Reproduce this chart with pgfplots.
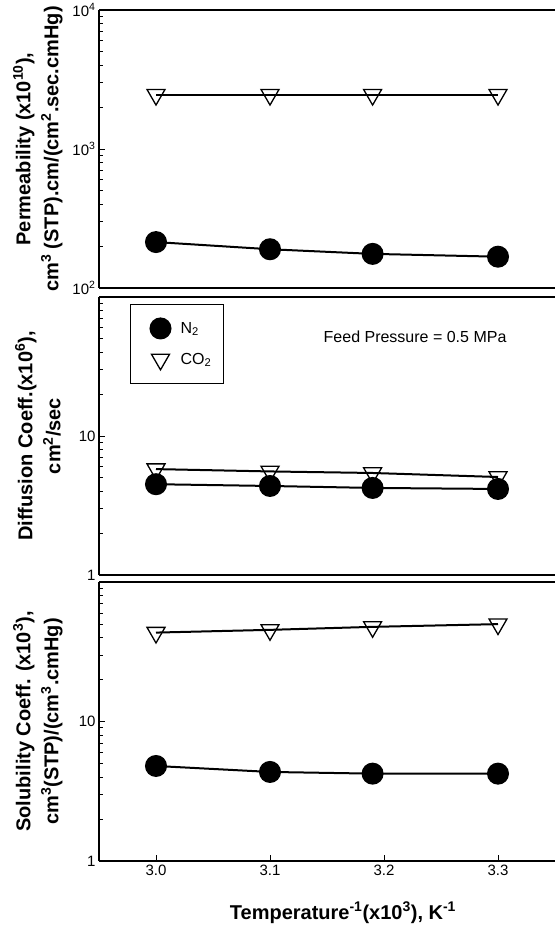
\documentclass[border=0pt]{standalone}
\usepackage{fontspec}
\setmainfont{Liberation Sans}
\usepackage{pgfplots}
\pgfplotsset{compat=1.18}
\pgfkeys{/pgf/number format/assume math mode=true}

\tikzset{
  n2/.style={mark=*, mark size=10pt, mark options={fill=black}},
  co2/.style={mark=triangle, mark size=10.4pt, mark options={rotate=180, fill=white, line width=1.3pt}},
}
\pgfplotsset{
  every axis/.append style={
    scale only axis, width=456pt,
    xmin=2.95, xmax=3.35,
    axis x line*=box, axis y line*=left,
    axis line style={line width=1.4pt,-},
    tick align=inside, ytick pos=left, xtick pos=bottom,
    major tick length=6pt, minor tick length=3.5pt,
    every tick/.style={black, line width=0.9pt},
    tick label style={font=\fontsize{15}{18}\selectfont},
    ylabel style={font=\fontsize{20}{28}\selectfont\bfseries, align=center,
      at={(axis description cs:-0.134,0.5)}, anchor=center},
    clip=false,
  },
}

\begin{document}
\begin{tikzpicture}
\useasboundingbox (0pt,0pt) rectangle (555pt,-928pt);

% permeability
\begin{axis}[ymode=log, at={(99pt,-288pt)}, anchor=south west, height=278pt,
  ymin=100, ymax=10000, xtick=\empty,
  ytick={100,1000,10000},
  yticklabels={10\textsuperscript{2},10\textsuperscript{3},10\textsuperscript{4}},
  minor ytick={200,300,400,500,600,700,800,900,2000,3000,4000,5000,6000,7000,8000,9000},
  ylabel={Permeability (x10\textsuperscript{10}),\\cm\textsuperscript{3} (STP).cm/(cm\textsuperscript{2}.sec.cmHg)}]
\addplot[black, line width=2pt, n2] coordinates {(3.0,214) (3.1,190) (3.19,176) (3.3,168)};
\addplot[black, line width=2pt, co2] coordinates {(3.0,2460) (3.1,2460) (3.19,2460) (3.3,2460)};
\end{axis}

% diffusion
\begin{axis}[ymode=log, at={(99pt,-575pt)}, anchor=south west, height=278pt,
  ymin=1, ymax=100, xtick=\empty,
  ytick={1,10}, yticklabels={1,10},
  minor ytick={2,3,4,5,6,7,8,9,20,30,40,50,60,70,80,90},
  ylabel={Diffusion Coeff.(x10\textsuperscript{6}),\\cm\textsuperscript{2}/sec},
  legend style={at={(axis description cs:0.068,0.975)}, anchor=north west,
    draw=black, line width=1pt, font=\fontsize{16}{19}\selectfont,
    inner xsep=10pt, inner ysep=14pt, row sep=11pt, cells={anchor=west}},
  legend image code/.code={\path[draw=none, fill=none] (0pt,-10pt) rectangle (38pt,10pt);
    \draw[#1] plot coordinates {(20pt,0pt)};}]
\addplot[black, line width=2pt, n2] coordinates {(3.0,4.5) (3.1,4.37) (3.19,4.23) (3.3,4.16)};
\addlegendentry{N\textsubscript{2}}
\addplot[black, line width=2pt, co2] coordinates {(3.0,5.78) (3.1,5.56) (3.19,5.42) (3.3,5.07)};
\addlegendentry{CO\textsubscript{2}}
\node[anchor=west, font=\fontsize{16}{19}\selectfont] at (axis description cs:0.485,0.856) {Feed Pressure = 0.5 MPa};
\end{axis}

% solubility
\begin{axis}[ymode=log, at={(99pt,-861pt)}, anchor=south west, height=279pt,
  ymin=1, ymax=100,
  xtick={3.0,3.1,3.2,3.3}, xticklabels={3.0,3.1,3.2,3.3},
  ytick={1,10}, yticklabels={1,10},
  minor ytick={2,3,4,5,6,7,8,9,20,30,40,50,60,70,80,90},
  ylabel={Solubility Coeff. (x10\textsuperscript{3}),\\cm\textsuperscript{3}(STP)/(cm\textsuperscript{3}.cmHg)},
  xlabel={Temperature\textsuperscript{-1}(x10\textsuperscript{3}), K\textsuperscript{-1}},
  xlabel style={font=\fontsize{20}{24}\selectfont\bfseries,
    at={(axis description cs:0.535,-0.186)}, anchor=center}]
\addplot[black, line width=2pt, n2] coordinates {(3.0,4.8) (3.1,4.35) (3.19,4.23) (3.3,4.23)};
\addplot[black, line width=2pt, co2] coordinates {(3.0,43.4) (3.1,45.4) (3.19,47.7) (3.3,49.9)};
\end{axis}
\end{tikzpicture}
\end{document}
